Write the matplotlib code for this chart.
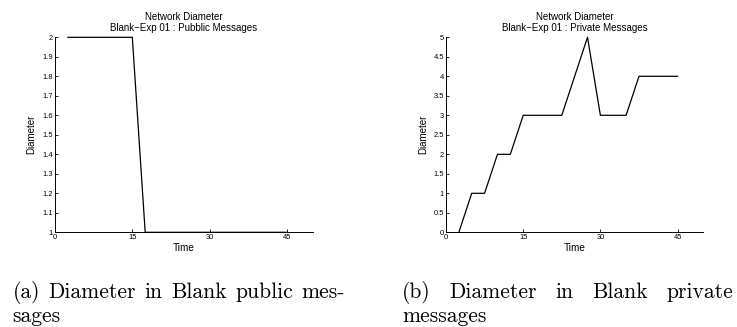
import matplotlib
matplotlib.use("Agg")
import matplotlib.pyplot as plt

# Sample times (shared by both experiments)
time = [2.5, 5, 7.5, 10, 12.5, 15, 17.5, 20, 22.5, 25, 27.5, 30,
        32.5, 35, 37.5, 40, 42.5, 45]

# Network diameter per sample
public_diameter = [2, 2, 2, 2, 2, 2, 1, 1, 1, 1, 1, 1, 1, 1, 1, 1, 1, 1]
private_diameter = [0, 1, 1, 2, 2, 3, 3, 3, 3, 4, 5, 3, 3, 3, 4, 4, 4, 4]

x_ticks = [0, 15, 30, 45]
public_yticks = [1, 1.1, 1.2, 1.3, 1.4, 1.5, 1.6, 1.7, 1.8, 1.9, 2]
private_yticks = [0, 0.5, 1, 1.5, 2, 2.5, 3, 3.5, 4, 4.5, 5]

titles = ["Network Diameter\nBlank\u2212Exp 01 : Pubblic Messages",
          "Network Diameter\nBlank\u2212Exp 01 : Private Messages"]
captions = [
    ("(a) Diameter in Blank public mes-", "sages"),
    ("(b) Diameter in Blank private", "messages"),
]

W, H = 737, 327
fig = plt.figure(figsize=(W / 100, H / 100), dpi=100)
sans = ["Liberation Sans", "DejaVu Sans"]

def px_axes(x0, x1, ytop, ybot):
    return fig.add_axes([x0 / W, (H - ybot) / H, (x1 - x0) / W, (ybot - ytop) / H])

ax1 = px_axes(55, 312.7, 37.3, 232.3)
ax2 = px_axes(446, 703.3, 37.3, 232.3)

for ax, y, yt, title in [(ax1, public_diameter, public_yticks, titles[0]),
                         (ax2, private_diameter, private_yticks, titles[1])]:
    ax.plot(time, y, color="black", lw=0.9, clip_on=False, zorder=3)
    ax.set_xlim(0, 50)
    ax.set_ylim(min(yt), max(yt))
    ax.set_xticks(x_ticks)
    ax.set_xticklabels([f"{t:g}" for t in x_ticks])
    ax.set_yticks(yt)
    ax.set_yticklabels([f"{t:g}" for t in yt])
    for s in ("top", "right"):
        ax.spines[s].set_visible(False)
    for s in ("left", "bottom"):
        ax.spines[s].set_linewidth(0.7)
    ax.tick_params(direction="in", length=2.5, width=0.6, labelsize=5.4, pad=1.5)
    for lab in ax.get_xticklabels() + ax.get_yticklabels():
        lab.set_family(sans)
    ax.set_xlabel("Time", fontsize=7.2, family=sans, labelpad=1)
    ax.set_ylabel("Diameter", fontsize=7.0, family=sans, labelpad=4)
    ax.set_title(title, fontsize=7.0, family=sans, pad=4.5, linespacing=1.1)

# Captions set in a serif face, justified like a typeset subcaption
cap_font = dict(family=["cmr10", "DejaVu Serif"], fontsize=15.5)
renderer = fig.canvas.get_renderer()

def justified(line, x0, x1, ybase):
    words = line.split(" ")
    texts = [fig.text(0, 0, w, va="baseline", ha="left", **cap_font) for w in words]
    widths = [t.get_window_extent(renderer).width for t in texts]
    gap = (x1 - x0 - sum(widths)) / (len(words) - 1)
    x = x0
    for t, w in zip(texts, widths):
        t.set_position((x / W, (H - ybase) / H))
        x += w + gap

def plain(line, x0, ybase):
    fig.text(x0 / W, (H - ybase) / H, line, va="baseline", ha="left", **cap_font)

justified(captions[0][0], 12.7, 345, 298)
plain(captions[0][1], 12.7, 322)
justified(captions[1][0], 402, 733, 298)
plain(captions[1][1], 402, 322)

fig.savefig("out.png", dpi=100)
